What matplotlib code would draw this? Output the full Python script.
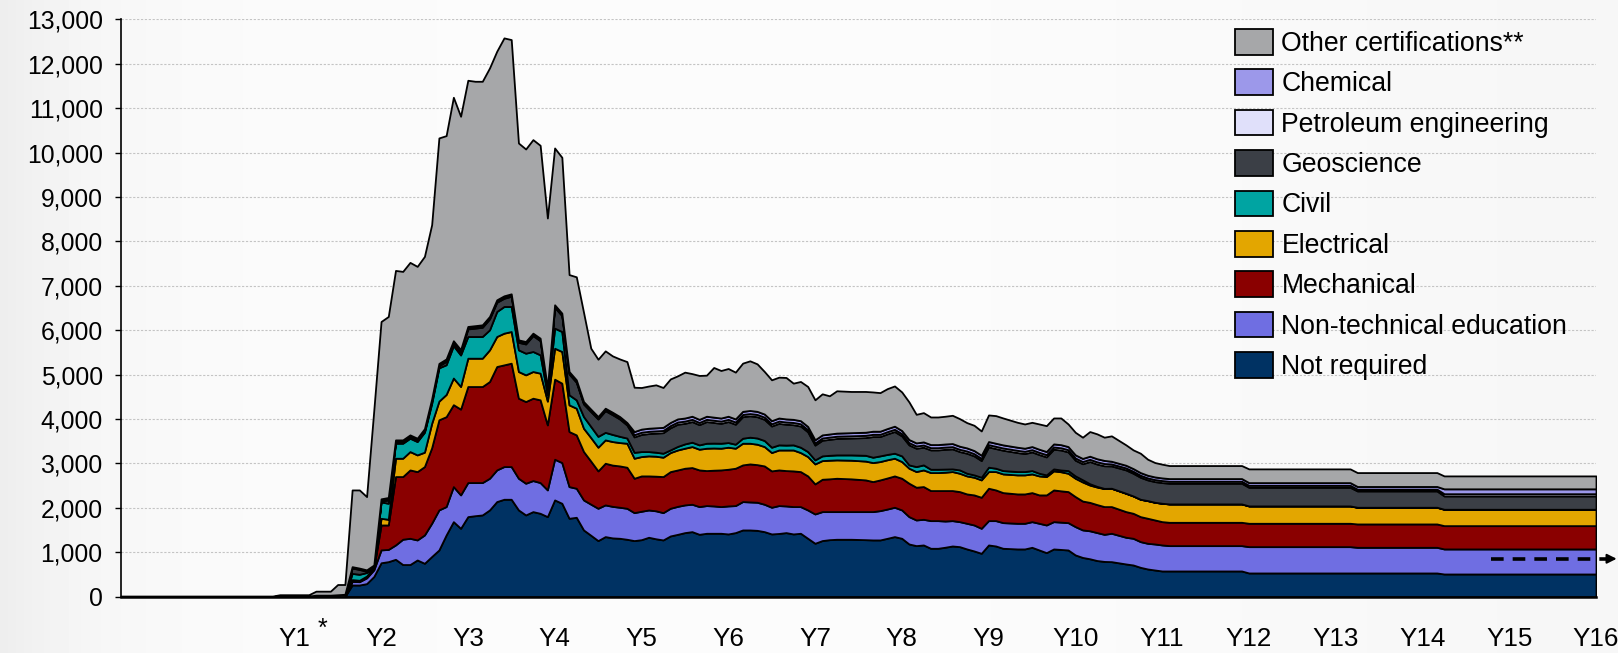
import numpy as np
import matplotlib
matplotlib.use("Agg")
import matplotlib.pyplot as plt
from matplotlib.patches import Patch
from matplotlib.ticker import FuncFormatter

plt.rcParams['font.family'] = ['Liberation Sans', 'DejaVu Sans']

# ---- data: month index (0 = start of Y1) ----
months = [-24, -3, -2, 2, 3, 5, 6, 7, 8, 9, 10, 11, 12, 13, 14, 15, 16, 17, 18, 19,
          20, 21, 22, 23, 24, 25, 26, 27, 28, 29, 30, 31, 32, 33, 34, 35, 36, 37, 38, 39,
          40, 41, 42, 43, 44, 45, 46, 47, 48, 49, 50, 51, 52, 53, 54, 55, 56, 57, 58, 59,
          60, 61, 62, 63, 64, 65, 66, 67, 68, 69, 70, 71, 72, 73, 74, 75, 77, 79, 80, 81,
          82, 83, 84, 85, 86, 87, 88, 89, 90, 91, 92, 93, 94, 95, 96, 97, 98, 100, 101, 102,
          103, 104, 105, 106, 107, 108, 109, 110, 111, 112, 113, 115, 116, 117, 118, 119, 120, 121, 131, 132,
          146, 147, 158, 159, 180]

not_required = [0, 0, 0, 0, 0, 0, 0, 0, 259, 259, 290, 450, 760, 785, 838, 720, 720, 823, 748, 900,
                1048, 1386, 1686, 1536, 1799, 1820, 1837, 1950, 2138, 2190, 2190, 1950, 1837, 1912, 1874, 1799, 2175, 2100, 1762, 1784,
                1499, 1380, 1259, 1349, 1320, 1311, 1289, 1259, 1280, 1334, 1300, 1274, 1364, 1400, 1439, 1461, 1401, 1424, 1424, 1424,
                1409, 1439, 1499, 1499, 1490, 1461, 1409, 1420, 1439, 1409, 1424, 1311, 1199, 1260, 1280, 1289, 1289, 1280, 1274, 1274,
                1311, 1349, 1311, 1183, 1146, 1161, 1086, 1086, 1110, 1138, 1123, 1071, 1026, 973, 1161, 1138, 1086, 1071, 1071, 1108,
                1048, 988, 1071, 1060, 1048, 936, 880, 850, 810, 790, 785, 733, 710, 657, 620, 597, 575, 575, 575, 530,
                530, 530, 530, 507, 507]
non_technical = [0, 0, 0, 0, 0, 0, 0, 0, 81, 75, 130, 150, 290, 275, 323, 570, 591, 451, 638, 750,
                 902, 639, 789, 752, 767, 746, 729, 713, 713, 736, 736, 713, 714, 699, 692, 602, 917, 917, 713, 654,
                 676, 700, 728, 714, 710, 699, 698, 630, 640, 615, 630, 615, 623, 630, 624, 617, 624, 624, 616, 601,
                 631, 609, 639, 631, 633, 617, 601, 628, 601, 616, 601, 638, 660, 652, 632, 623, 623, 632, 638, 660,
                 659, 661, 639, 616, 578, 578, 623, 623, 590, 571, 563, 578, 585, 563, 548, 571, 578, 578, 578, 578,
                 601, 623, 615, 615, 616, 638, 620, 630, 630, 610, 639, 601, 601, 579, 578, 586, 586, 571, 571, 593,
                 593, 578, 578, 564, 564]
mechanical = [0, 0, 0, 0, 0, 0, 0, 0, 20, 16, 20, 40, 561, 551, 1540, 1411, 1540, 1539, 1540, 1700,
              2030, 2025, 1845, 1932, 2163, 2163, 2163, 2179, 2329, 2291, 2329, 1803, 1840, 1855, 1863, 1464, 1803, 1788, 1240, 1202,
              1090, 970, 842, 938, 930, 931, 924, 774, 796, 767, 780, 812, 826, 820, 826, 826, 826, 788, 805, 826,
              826, 841, 826, 856, 847, 863, 819, 803, 796, 804, 788, 767, 677, 729, 738, 751, 738, 714, 676, 692,
              700, 706, 713, 752, 737, 737, 677, 677, 686, 677, 677, 661, 677, 699, 729, 691, 676, 661, 661, 654,
              639, 677, 714, 705, 699, 676, 650, 640, 630, 625, 601, 578, 563, 563, 564, 541, 525, 525, 525, 526,
              526, 526, 526, 525, 525]
electrical = [0, 0, 0, 0, 0, 0, 0, 0, 20, 15, 20, 20, 149, 129, 413, 413, 413, 376, 324, 550,
              420, 500, 600, 510, 638, 638, 638, 713, 676, 714, 713, 601, 601, 601, 601, 535, 697, 713, 601, 601,
              525, 530, 533, 526, 530, 526, 541, 451, 436, 451, 450, 436, 429, 450, 451, 473, 466, 504, 500, 489,
              496, 451, 488, 466, 460, 436, 413, 449, 464, 471, 429, 436, 450, 420, 420, 414, 420, 424, 428, 413,
              410, 398, 376, 338, 353, 375, 405, 405, 414, 428, 413, 406, 398, 391, 376, 414, 421, 429, 429, 421,
              428, 413, 429, 430, 413, 413, 430, 390, 395, 405, 413, 413, 391, 391, 398, 398, 414, 414, 414, 391,
              391, 376, 376, 369, 369]
civil = [0, 0, 0, 0, 0, 0, 0, 0, 140, 135, 80, 10, 370, 360, 338, 338, 301, 301, 450, 450,
         750, 670, 730, 710, 489, 489, 489, 451, 563, 601, 564, 488, 488, 451, 413, 150, 452, 450, 226, 188,
         263, 250, 245, 170, 160, 140, 117, 133, 112, 97, 90, 90, 60, 80, 97, 98, 98, 112, 110, 112,
         105, 90, 113, 136, 140, 136, 120, 115, 110, 115, 120, 112, 91, 106, 110, 112, 119, 130, 121, 128,
         120, 113, 128, 75, 112, 113, 75, 75, 70, 60, 75, 60, 53, 60, 98, 75, 75, 75, 75, 75,
         60, 38, 45, 40, 60, 53, 50, 30, 15, 5, 0, 0, 0, 0, 0, 0, 0, 0, 0, 0,
         0, 0, 0, 0, 0]
geoscience = [0, 0, 10, 10, 30, 30, 40, 50, 122, 110, 30, 10, 15, 75, 20, 20, 20, 20, 25, 45,
              45, 75, 55, 65, 171, 189, 208, 246, 208, 185, 230, 170, 208, 358, 320, 95, 471, 359, 470, 396,
              283, 335, 391, 489, 445, 391, 294, 348, 386, 406, 430, 463, 498, 500, 463, 465, 455, 488, 465, 448,
              473, 450, 485, 482, 480, 477, 478, 485, 470, 455, 478, 446, 333, 353, 360, 371, 381, 400, 466, 436,
              463, 489, 451, 451, 414, 398, 436, 436, 445, 451, 414, 451, 428, 376, 458, 443, 459, 428, 406, 421,
              421, 406, 443, 450, 421, 354, 360, 500, 503, 510, 503, 526, 511, 496, 466, 466, 466, 466, 466, 420,
              420, 368, 368, 300, 300]
petroleum = [0, 0, 0, 0, 0, 0, 0, 0, 15, 15, 15, 15, 25, 25, 25, 25, 25, 25, 25, 25,
             25, 25, 25, 25, 25, 25, 25, 25, 25, 25, 25, 25, 25, 25, 25, 25, 25, 25, 25, 25,
             25, 25, 25, 25, 25, 25, 25, 50, 50, 50, 50, 50, 50, 50, 50, 50, 50, 50, 50, 50,
             50, 50, 50, 50, 50, 50, 50, 50, 50, 50, 50, 50, 50, 50, 50, 50, 50, 50, 50, 50,
             50, 50, 50, 50, 50, 50, 50, 50, 50, 50, 50, 50, 50, 50, 50, 50, 50, 50, 50, 50,
             50, 50, 50, 50, 50, 50, 50, 50, 50, 50, 45, 45, 45, 45, 45, 45, 45, 45, 45, 45,
             45, 40, 40, 50, 50]
chemical = [0, 0, 0, 0, 0, 0, 0, 0, 15, 15, 15, 15, 30, 30, 30, 30, 30, 30, 30, 30,
            30, 30, 30, 30, 30, 30, 30, 30, 30, 30, 30, 30, 30, 30, 30, 30, 30, 30, 30, 30,
            30, 30, 30, 30, 30, 30, 30, 70, 70, 70, 70, 70, 70, 70, 70, 70, 70, 70, 70, 70,
            70, 70, 70, 70, 70, 70, 70, 70, 70, 70, 70, 70, 70, 70, 70, 70, 70, 70, 70, 70,
            70, 70, 70, 70, 70, 70, 70, 70, 70, 70, 70, 70, 70, 70, 70, 70, 70, 70, 70, 70,
            70, 70, 70, 70, 70, 70, 70, 70, 70, 70, 60, 60, 60, 60, 60, 60, 60, 60, 60, 60,
            60, 60, 60, 110, 110]
other = [10, 10, 30, 30, 90, 90, 230, 220, 1728, 1760, 1650, 3490, 3994, 4077, 3817, 3795, 3885, 3870, 3880, 3925,
         5078, 5030, 5484, 5256, 5545, 5504, 5485, 5598, 5599, 5809, 5726, 4434, 4336, 4359, 4344, 3824, 3532, 3510, 2183, 2320,
         2009, 1373, 1291, 1291, 1269, 1297, 1373, 998, 937, 950, 967, 897, 980, 970, 1033, 960, 988, 925, 1118, 1070,
         1075, 1053, 1086, 1118, 1070, 958, 920, 920, 933, 815, 883, 900, 900, 925, 860, 953, 928, 918, 884, 869,
         899, 906, 869, 847, 643, 659, 621, 621, 625, 636, 621, 569, 569, 546, 599, 622, 606, 561, 546, 546,
         569, 583, 584, 601, 509, 508, 478, 555, 560, 523, 572, 459, 421, 436, 361, 324, 309, 293, 293, 309,
         309, 313, 313, 291, 291]

series_names = ["Not required", "Non-technical education", "Mechanical", "Electrical", "Civil",
                "Geoscience", "Petroleum engineering", "Chemical", "Other certifications**"]
series_colors = ["#003263", "#6f6ee2", "#8a0000", "#e3a600", "#00a4a2",
                 "#3b3f46", "#e0e0fa", "#9c98ea", "#a6a7a9"]
year_labels = ["Y%d" % i for i in range(1, 17)]
year_ticks = list(range(1, 17))

# ---- figure ----
W, H = 1618, 653
fig = plt.figure(figsize=(W / 100, H / 100), dpi=100)

# background gradient
bg = fig.add_axes([0, 0, 1, 1], zorder=-10)
gx = np.linspace(0, 1, 400)
g = 0.985 - 0.055 * np.exp(-gx / 0.06) - 0.02 * np.clip((gx - 0.6) / 0.4, 0, 1)
bg.imshow(np.tile(g, (10, 1)), aspect='auto', cmap='gray', vmin=0, vmax=1,
          extent=[0, 1, 0, 1])
bg.set_axis_off()

ax_l, ax_r = 120.7 / W, 1596 / W
ax_t, ax_b = 19.3 / H, 596.5 / H
ax = fig.add_axes([ax_l, 1 - ax_b, ax_r - ax_l, ax_b - ax_t])
ax.patch.set_alpha(0)

x = 1 + np.array(months) / 12.0
ys = [not_required, non_technical, mechanical, electrical, civil, geoscience,
      petroleum, chemical, other]
ax.stackplot(x, *ys, colors=series_colors, edgecolor='black', linewidth=1.3, zorder=3)

ax.set_xlim(-1, 16)
ax.set_ylim(0, 13000)
ax.set_yticks(range(0, 13001, 1000))
ax.yaxis.set_major_formatter(FuncFormatter(lambda v, p: "{:,}".format(int(v))))
ax.set_xticks(year_ticks)
ax.set_xticklabels(year_labels)
ax.tick_params(axis='y', direction='out', length=4, width=1, pad=9, labelsize=17.8, colors='black')
ax.tick_params(axis='x', length=0, pad=22, labelsize=18.7)
ax.grid(axis='y', color='#c4c4c4', linestyle=(0, (2, 1.5)), linewidth=0.8, zorder=0)
ax.set_axisbelow(True)
for s in ['top', 'right']:
    ax.spines[s].set_visible(False)
ax.spines['left'].set_linewidth(1.2)
ax.spines['bottom'].set_linewidth(1.8)

# asterisk next to Y1
ax.text(1.33, -0.036, "*", transform=ax.get_xaxis_transform(), ha='center', va='top',
        fontsize=18, clip_on=False)

# dashed arrow at right
ax.plot([14.79, 16.18], [850, 850], color='black', lw=2.6, linestyle=(0, (3.5, 2.5)),
        clip_on=False, zorder=5)
ax.annotate('', xy=(16.27, 850), xytext=(16.15, 850),
            arrowprops=dict(arrowstyle='-|>', color='black', lw=1.5, mutation_scale=14),
            annotation_clip=False, zorder=5)

# legend
handles = [Patch(facecolor=c, edgecolor='black', linewidth=1.3, label=n)
           for n, c in zip(series_names[::-1], series_colors[::-1])]
leg = fig.legend(handles=handles, loc='upper left',
                 bbox_to_anchor=(1235 / W, 1 - 29 / H), frameon=False,
                 fontsize=19.2, handlelength=1.42, handleheight=1.1,
                 handletextpad=0.32, labelspacing=0.47, borderpad=0, borderaxespad=0)

fig.savefig("out.png", dpi=100)
